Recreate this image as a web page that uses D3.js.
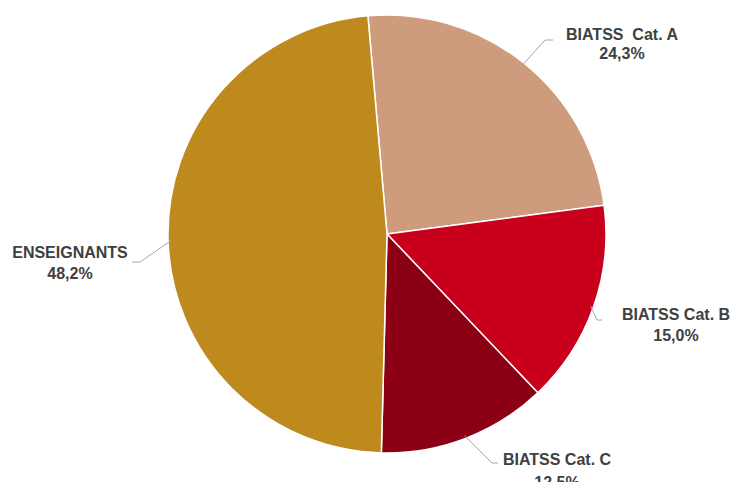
<!DOCTYPE html>
<html>
<head>
<meta charset="utf-8">
<script src="https://cdn.jsdelivr.net/npm/d3@7"></script>
<style>
  html, body { margin: 0; padding: 0; background: #fff; }
  svg { display: block; }
</style>
</head>
<body>
<svg id="chart" width="733" height="482"></svg>
<script>
const categories = ["BIATSS  Cat. A", "BIATSS Cat. B", "BIATSS Cat. C", "ENSEIGNANTS"];
const values = [24.3, 15.0, 12.5, 48.2];
const valueLabels = ["24,3%", "15,0%", "12.5%", "48,2%"];
const colors = ["#CF9B7D", "#C8001C", "#8C0016", "#BE8A1E"];

// layout (not data): label centre x, baselines of both lines, elbow and line end
const labelLayout = [
  { x: 622, y1: 40, y2: 59, elbow: [545, 40], end: [553, 40] },
  { x: 676, y1: 320, y2: 341, elbow: [597, 320], end: [602, 320] },
  { x: 557, y1: 465, y2: 488, elbow: [492, 463], end: [498, 463] },
  { x: 70, y1: 258, y2: 279, elbow: [140, 262], end: [132, 262] }
];

const svg = d3.select("#chart");
const cx = 387, cy = 234, r = 219;
const startA = -5 * Math.PI / 180;

const data = categories.map((c, i) => ({ cat: c, value: values[i], label: valueLabels[i], color: colors[i], lay: labelLayout[i] }));

const pie = d3.pie().sort(null).value(d => d.value)
  .startAngle(startA).endAngle(startA + 2 * Math.PI);
const arcs = pie(data);
const arc = d3.arc().innerRadius(0).outerRadius(r);
const edgeArc = d3.arc().innerRadius(r - 3).outerRadius(r - 3);

const g = svg.append("g").attr("transform", `translate(${cx},${cy})`);

g.selectAll("path.slice").data(arcs).join("path")
  .attr("class", "slice")
  .attr("d", arc)
  .attr("fill", d => d.data.color)
  .attr("stroke", "#fff")
  .attr("stroke-width", 1.5)
  .attr("stroke-linejoin", "round");

// leader lines
svg.selectAll("polyline.leader").data(arcs).join("polyline")
  .attr("class", "leader")
  .attr("fill", "none")
  .attr("stroke", "#A6A6A6")
  .attr("stroke-width", 1)
  .attr("points", d => {
    const c = edgeArc.centroid(d);
    const p0 = [cx + c[0], cy + c[1]];
    return [p0, d.data.lay.elbow, d.data.lay.end].map(p => p.join(",")).join(" ");
  });

// labels
const lab = svg.selectAll("text.lab").data(arcs).join("text")
  .attr("class", "lab")
  .attr("text-anchor", "middle")
  .attr("font-family", "'Liberation Sans', Arial, sans-serif")
  .attr("font-weight", "bold")
  .attr("font-size", 16)
  .attr("fill", "#404040")
  .attr("xml:space", "preserve")
  .style("white-space", "pre");

lab.append("tspan")
  .attr("x", d => d.data.lay.x)
  .attr("y", d => d.data.lay.y1)
  .text(d => d.data.cat);
lab.append("tspan")
  .attr("x", d => d.data.lay.x)
  .attr("y", d => d.data.lay.y2)
  .text(d => d.data.label);
</script>
</body>
</html>
